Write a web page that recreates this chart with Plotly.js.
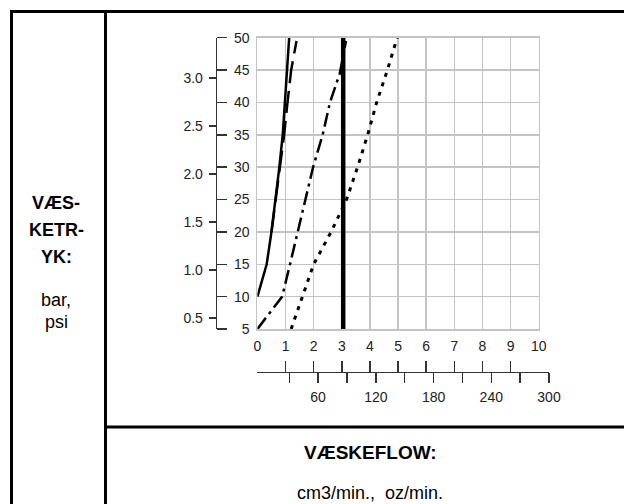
<!DOCTYPE html>
<html>
<head>
<meta charset="utf-8">
<script src="https://cdn.plot.ly/plotly-3.0.1.min.js"></script>
<style>html,body{margin:0;padding:0;background:#fff;}#chart{width:624px;height:504px;}</style>
</head>
<body>
<div id="chart"></div>
<script>
// ---- data (x: oz/min, y: psi) ----
const solidX = [0, 0.33, 0.5, 0.65, 0.78, 0.9, 0.98, 1.05, 1.13];
const solidY = [10, 15, 20, 25, 30, 35, 40, 45, 50];
const longDashX = [0.5, 0.65, 0.8, 0.95, 1.07, 1.2, 1.39];
const longDashY = [20, 25, 30, 35, 40, 45, 49.5];
const dashDotX = [0, 0.88, 1.16, 1.43, 1.69, 1.98, 2.32, 2.58, 2.93, 3.15];
const dashDotY = [5, 10, 15, 20, 25, 30, 35, 40, 44.5, 49.5];
const thickX = [3.05, 3.05];
const thickY = [5, 50];
const dottedX = [1.2, 1.6, 2.0, 2.62, 3.17, 3.56, 3.92, 4.24, 4.62, 4.97];
const dottedY = [5, 10, 15, 20, 25, 30, 35, 40, 45, 50];

const ozTicks = [0,1,2,3,4,5,6,7,8,9,10];
const ccTicks = [30,60,90,120,150,180,210,240,270,300];
const ccLabels = ['','60','','120','','180','','240','','300'];
const psiTicks = [5,10,15,20,25,30,35,40,45,50];
const psiLabels = ['\u20075','10','15','20','25','30','35','40','45','50'];
const barTicks = [0.5,1.0,1.5,2.0,2.5,3.0];
const barLabels = ['0.5','1.0','1.5','2.0','2.5','3.0'];

const yLabelLines = ['VÆS-','KETR-','YK:'];
const yUnitLines = ['bar,','psi'];
const xTitle = 'VÆSKEFLOW:';
const xUnits = 'cm3/min.,  oz/min.';

// ---- geometry helpers (pixels -> paper) ----
const W = 624, H = 504;
const px = v => v / W;
const py = v => 1 - v / H;

const FONT = 'Liberation Sans, Arial, Helvetica, sans-serif';
const tickFont = {family: FONT, size: 14, color: '#222'};

const traces = [
  {x: solidX, y: solidY, mode: 'lines', line: {color: '#000', width: 2.5}},
  {x: longDashX, y: longDashY, mode: 'lines', line: {color: '#000', width: 2.5, dash: '22px,8px'}},
  {x: dashDotX, y: dashDotY, mode: 'lines', line: {color: '#000', width: 2.5, dash: '14px,5px,3px,5px'}},
  {x: dottedX, y: dottedY, mode: 'lines', line: {color: '#000', width: 3, dash: '4px,6px'}},
  {x: thickX, y: thickY, mode: 'lines', line: {color: '#000', width: 4.5}},
  // axis carriers
  {x: [], y: [], xaxis: 'x2', yaxis: 'y', mode: 'lines'},
  {x: [], y: [], xaxis: 'x3', yaxis: 'y4', mode: 'lines'},
  {x: [], y: [], xaxis: 'x', yaxis: 'y2', mode: 'lines'},
  {x: [], y: [], xaxis: 'x', yaxis: 'y3', mode: 'lines'}
].map(t => Object.assign({showlegend: false, hoverinfo: 'skip'}, t));

const xDom = [px(257.4), px(538.7)];
const yDom = [py(329), py(37.7)];
const axisPos = px(215.7);
const bottomPos = py(371.7);
const GRID = '#c4c4c4';
const AX = '#333';

const layout = {
  width: W, height: H,
  margin: {l: 0, r: 0, t: 0, b: 0},
  paper_bgcolor: '#fff', plot_bgcolor: 'rgba(0,0,0,0)',
  showlegend: false,
  font: {family: FONT, color: '#000'},
  xaxis: {
    domain: xDom, range: [0, 10], anchor: 'y',
    tickvals: ozTicks, ticks: '', showticklabels: true, tickfont: tickFont,
    ticklabelstandoff: 4,
    showgrid: true, gridcolor: GRID, gridwidth: 1.5,
    showline: true, mirror: true, linecolor: GRID, linewidth: 1.5,
    zeroline: false, fixedrange: true
  },
  yaxis: {
    domain: yDom, range: [5, 50], anchor: 'x',
    tickvals: psiTicks, showticklabels: false, ticks: '',
    showgrid: true, gridcolor: GRID, gridwidth: 1.5,
    showline: true, mirror: true, linecolor: GRID, linewidth: 1.5,
    zeroline: false, fixedrange: true
  },
  xaxis2: {
    overlaying: 'x', anchor: 'free', position: bottomPos, side: 'bottom',
    range: [0, 10], tickvals: ozTicks, ticks: 'inside', ticklen: 11, tickwidth: 1.5, tickcolor: AX,
    showticklabels: false, showgrid: false, zeroline: false,
    showline: true, linecolor: AX, linewidth: 1.5
  },
  xaxis3: {
    domain: [px(260.4), px(549)], anchor: 'free', position: bottomPos, side: 'bottom',
    range: [0, 300], tickvals: ccTicks, ticktext: ccLabels, ticks: 'outside', ticklen: 10, tickwidth: 1.5, tickcolor: AX,
    tickfont: tickFont, ticklabelstandoff: 2,
    showgrid: false, zeroline: false,
    showline: true, linecolor: AX, linewidth: 1.5
  },
  yaxis4: {domain: yDom, anchor: 'x3', range: [5, 50], visible: false},
  yaxis2: {
    overlaying: 'y', anchor: 'free', position: axisPos, side: 'right',
    range: [5, 50], tickvals: psiTicks, ticktext: psiLabels, ticks: 'outside', ticklen: 10, tickwidth: 1.5, tickcolor: AX,
    tickfont: tickFont, ticklabelstandoff: 4,
    showgrid: false, zeroline: false,
    showline: true, linecolor: AX, linewidth: 1.5
  },
  yaxis3: {
    overlaying: 'y', anchor: 'free', position: axisPos, side: 'left',
    range: [0.384, 3.418], tickvals: barTicks, ticktext: barLabels, ticks: 'outside', ticklen: 7, tickwidth: 1.5, tickcolor: AX,
    tickfont: tickFont, ticklabelstandoff: 3,
    showgrid: false, zeroline: false, showline: false
  },
  shapes: [
    {type: 'line', xref: 'paper', yref: 'paper', x0: px(11.5), x1: px(11.5), y0: py(10), y1: py(504), line: {color: '#000', width: 3}},
    {type: 'line', xref: 'paper', yref: 'paper', x0: px(10), x1: px(624), y0: py(11.5), y1: py(11.5), line: {color: '#000', width: 3}},
    {type: 'line', xref: 'paper', yref: 'paper', x0: px(105.5), x1: px(105.5), y0: py(10), y1: py(504), line: {color: '#000', width: 3}},
    {type: 'line', xref: 'paper', yref: 'paper', x0: px(104), x1: px(624), y0: py(427), y1: py(427), line: {color: '#000', width: 3}}
  ],
  annotations: [
    ...yLabelLines.map((t, i) => ({text: '<b>' + t + '</b>', x: px(56), y: py(203 + i * 27), xref: 'paper', yref: 'paper', showarrow: false, xanchor: 'center', yanchor: 'middle', font: {family: FONT, size: 18, color: '#000'}})),
    ...yUnitLines.map((t, i) => ({text: t, x: px(56), y: py(300 + i * 22), xref: 'paper', yref: 'paper', showarrow: false, xanchor: 'center', yanchor: 'middle', font: {family: FONT, size: 18, color: '#000'}})),
    {text: '<b>' + xTitle + '</b>', x: px(370), y: py(452), xref: 'paper', yref: 'paper', showarrow: false, xanchor: 'center', yanchor: 'middle', font: {family: FONT, size: 19, color: '#000'}},
    {text: xUnits, x: px(370), y: py(493), xref: 'paper', yref: 'paper', showarrow: false, xanchor: 'center', yanchor: 'middle', font: {family: FONT, size: 18, color: '#000'}}
  ]
};

Plotly.newPlot('chart', traces, layout, {staticPlot: true, displayModeBar: false});
</script>
</body>
</html>
